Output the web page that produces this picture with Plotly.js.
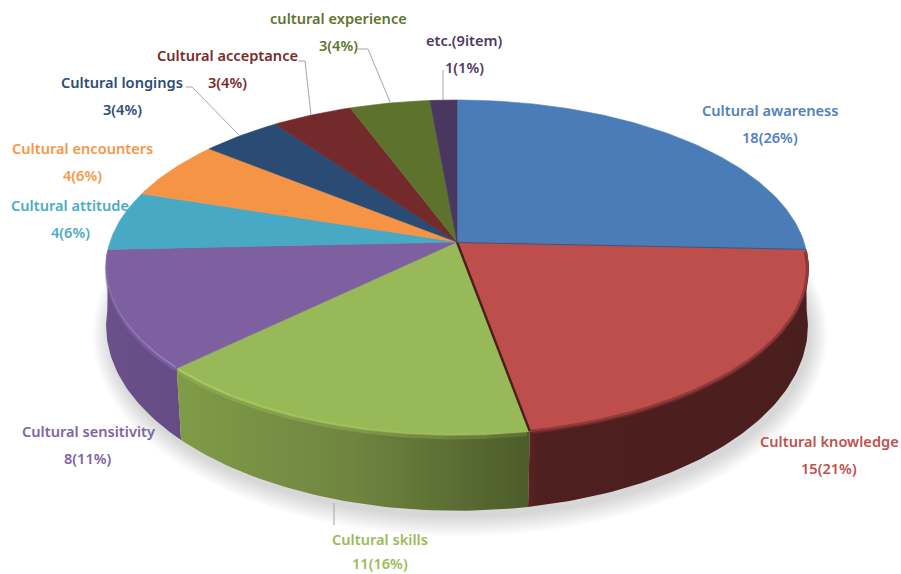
<!DOCTYPE html>
<html>
<head>
<meta charset="utf-8">
<script src="https://cdn.plot.ly/plotly-3.0.1.min.js"></script>
<style>html,body{margin:0;padding:0;background:#fff}#chart{width:901px;height:574px}</style>
</head>
<body>
<div id="chart"></div>
<script>
// Slice data, clockwise from twelve o'clock
const categories = ["Cultural awareness","Cultural knowledge","Cultural skills","Cultural sensitivity","Cultural attitude","Cultural encounters","Cultural longings","Cultural acceptance","cultural experience","etc.(9item)"];
const counts = [18,15,11,8,4,4,3,3,3,1];
const percents = [26,21,16,11,6,6,4,4,4,1];
const faceColors = ["#4a7db8","#bd4e4b","#98b957","#7e60a0","#48a9c5","#f49444","#2a4b73","#74292a","#5d722d","#4a3760"];
const textColors = ["#4f81bd","#c0504d","#9bbb59","#8064a2","#4bacc6","#f79646","#2c4d75","#772c2a","#5f7530","#4d3b62"];
const labelX = [770,829,380,88,70,82,122,227,338,464];
const labelY = [110,441,539,431,205,148,82,55,18,40];

// Perspective of the disc: top face and bottom edge
const TOP = {cx:457, cy:242, a:347, b:163.6, k:0.152};
const BASE = {cx:457, cy:302, a:348, b:182, k:0.128};
const total = counts.reduce((s,v)=>s+v,0);

function project(p, deg, grow=0, dx=0, dy=0){
  const t = deg*Math.PI/180, u = Math.sin(t), v = -Math.cos(t), d = 1-p.k*v;
  return [p.cx+dx+(p.a+grow)*u/d, p.cy+dy+(p.b+grow)*v/d];
}
function arc(p, from, to, grow=0, dx=0, dy=0){
  const pts = [], n = Math.max(2, Math.ceil(Math.abs(to-from)));
  for(let i=0;i<=n;i++) pts.push(project(p, from+(to-from)*i/n, grow, dx, dy));
  return pts;
}
const xs = pts => pts.map(q=>q[0]);
const ys = pts => pts.map(q=>q[1]);
const traces = [];
function poly(pts, style){
  traces.push(Object.assign({type:"scatter",mode:"lines",x:xs(pts),y:ys(pts),hoverinfo:"skip",showlegend:false},style));
}
function fillPoly(pts, color){
  poly(pts.concat([pts[0]]), {fill:"toself",fillcolor:color,line:{width:0.6,color:color}});
}

// Soft ground shadow under the disc
for(let i=9;i>=0;i--){
  poly(arc(BASE,0,360,i*1.8,3,7), {fill:"toself",fillcolor:"rgba(0,0,0,0.016)",line:{width:0}});
}

// Slice angles
const starts = [], ends = [];
counts.reduce((acc,v,i)=>{starts[i]=acc/total*360; ends[i]=(acc+v)/total*360; return acc+v;},0);

// Side walls, shaded left to right
const wallScales = {
  1:[[0,"#5c2222"],[0.04,"#4e1f1f"],[1,"#4b1e1e"]],
  2:[[0,"#7f9c48"],[0.5,"#6f8540"],[1,"#4c5c2a"]],
  3:[[0,"#6a5088"],[1,"#664c84"]]
};
const wallSpans = {1:[528,810],2:[177,528],3:[105,182]};
[3,2,1].forEach(i=>{
  const top = arc(TOP,starts[i],ends[i]);
  const base = arc(BASE,starts[i],ends[i]).reverse();
  const pts = top.concat(base); pts.push(pts[0]);
  poly(pts,{fill:"toself",line:{width:0},fillgradient:{type:"horizontal",start:wallSpans[i][0],stop:wallSpans[i][1],colorscale:wallScales[i]}});
});

// Top faces
counts.forEach((v,i)=>{
  fillPoly([[TOP.cx,TOP.cy]].concat(arc(TOP,starts[i],ends[i])), faceColors[i]);
});

// Bevel along the front rim; the highlight strength changes around the arc
const bevels = [
  {i:1,layers:[["#6d2828",3,1.8,[1,1]],["#8f3b39",2.4,0.2,[1,1]]]},
  {i:2,layers:[["#8aa850",4.5,3,[0.25,1]],["#a9c860",2.4,0.6,[0.15,1]]]},
  {i:3,layers:[["#75609c",4,2.5,[1,0.2]],["#947bc2",1.8,0.4,[1,0.1]]]}
];
const PIECES = 10;
bevels.forEach(b=>b.layers.forEach(l=>{
  const from = starts[b.i]+0.4, to = ends[b.i]-0.2;
  for(let p=0;p<PIECES;p++){
    const a0 = from+(to-from)*p/PIECES, a1 = from+(to-from)*(p+1)/PIECES;
    const o = l[3][0]+(l[3][1]-l[3][0])*(p+0.5)/PIECES;
    poly(arc(TOP,a0,a1,-0.6,0,l[2]),{line:{color:l[0],width:l[1]},opacity:o});
  }
}));

// Dark seams where the red slice meets its neighbours
poly([[TOP.cx,TOP.cy],project(TOP,ends[1])],{line:{color:"#4b1e1e",width:2.4}});
poly([[TOP.cx,TOP.cy+0.5],project(TOP,ends[0])],{line:{color:"#2f5a8f",width:1}});

// Leader lines
const leaders = [
  [[186,87],[192,87],[239,135]],
  [[298,61],[305,61],[311,115]],
  [[358,49],[368,49],[390,102]],
  [[443,70],[443,100]],
  [[334,503],[334,525]]
];
leaders.forEach(l=>poly(l,{line:{color:"#a6a6a6",width:1}}));

// Two-line data labels
const annotations = [];
const labelFont = c => ({family:"'Noto Sans', 'Open Sans', sans-serif",size:14.6,color:c,weight:600});
categories.forEach((name,i)=>{
  annotations.push({x:labelX[i],y:labelY[i],text:name,showarrow:false,xanchor:"center",yanchor:"middle",font:labelFont(textColors[i])});
  annotations.push({x:labelX[i],y:Math.min(labelY[i]+27,563),text:counts[i]+"("+percents[i]+"%)",showarrow:false,xanchor:"center",yanchor:"middle",font:labelFont(textColors[i])});
});

Plotly.newPlot("chart",traces,{
  width:901,height:574,
  margin:{l:0,r:0,t:0,b:0},
  paper_bgcolor:"#fff",plot_bgcolor:"#fff",
  showlegend:false,
  xaxis:{range:[0,901],visible:false,fixedrange:true},
  yaxis:{range:[574,0],visible:false,fixedrange:true},
  annotations:annotations
},{staticPlot:true,displayModeBar:false});
</script>
</body>
</html>
